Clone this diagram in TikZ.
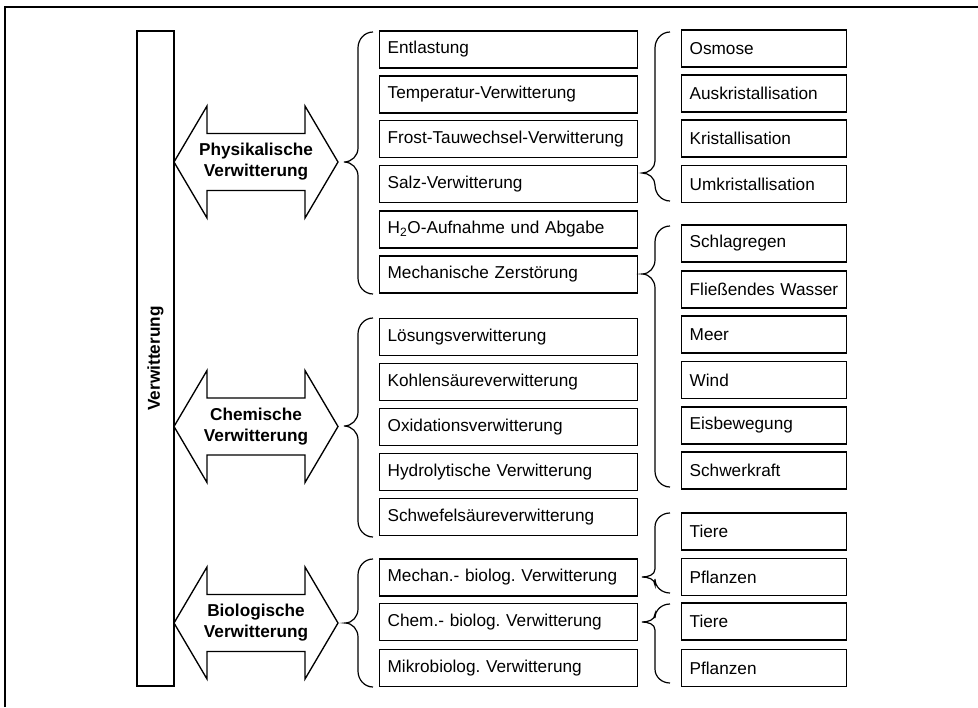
\documentclass[tikz,border=0pt]{standalone}
\usepackage{fontspec}
\setmainfont{Liberation Sans}
\frenchspacing
\begin{document}
\begin{tikzpicture}[x=0.75pt,y=-0.75pt,
  boxfont/.style={font=\fontsize{12.9}{15.5}\selectfont\frenchspacing},
  frame/.style={line width=1.1pt},
  midbox/.style={draw, line width=1pt, anchor=west, minimum height=27.75pt,
     text width=181.5pt, inner xsep=6pt, inner ysep=0pt, align=left, boxfont},
  rightbox/.style={draw, line width=1pt, anchor=west, minimum height=27.75pt,
     text width=111.75pt, inner xsep=6pt, inner ysep=0pt, align=left, boxfont},
  bar/.style={draw, line width=1pt, rotate=90, minimum width=491.25pt,
     minimum height=27.75pt, inner sep=0pt, font=\fontsize{12.9}{15.5}\selectfont\bfseries},
  arrowshape/.style={draw, line width=1pt, line join=miter},
  arrowtext/.style={align=center, font=\fontsize{12.9}{15.8}\selectfont\bfseries},
  bracestyle/.style={draw, line width=0.9pt}
]
\useasboundingbox (0,0) rectangle (978,707);
% outer frame (top and left visible)
\draw[frame] (5,707) -- (5,7) -- (978,7);

% main vertical bar
\node[bar] (verw) at (155.5,358.5) {Verwitterung};

% double arrows
\newcommand{\dblarrow}[3]{%
  \draw[arrowshape] (174,#1) -- (207,#1-56) -- (207,#1-28.5) -- (305,#1-28.5) -- (305,#1-56)
     -- (338,#1) -- (305,#1+56) -- (305,#1+28.5) -- (207,#1+28.5) -- (207,#1+56) -- cycle;
  \node[arrowtext] (#2) at (256,#1) {#3};}
\dblarrow{162}{phys}{Physikalische\\Verwitterung}
\dblarrow{426.5}{chem}{Chemische\\Verwitterung}
\dblarrow{623}{bio}{Biologische\\Verwitterung}

% braces: #1 end x, #2 vertical x, #3 tip x, #4 top y, #5 tip y, #6 bottom y, #7 r ends, #8 r tip
\newcommand{\curlybrace}[8]{%
  \draw[bracestyle] (#1,#4) to[out=180,in=90] (#2,#4+#7) -- (#2,#5-#8)
     to[out=-90,in=0] (#3,#5) to[out=0,in=90] (#2,#5+#8) -- (#2,#6-#7)
     to[out=-90,in=180] (#1,#6);}

% left braces
\curlybrace{373}{358}{344}{32}{162}{294}{16}{14}
\curlybrace{373}{358}{344}{318}{426}{537}{16}{14}
\curlybrace{373}{358}{345}{559}{623}{687}{16}{14}
% right braces
\curlybrace{670}{655}{642}{32}{173}{201}{16}{12}
\curlybrace{670}{655}{642}{226}{274}{487}{16}{14}
\curlybrace{670}{655}{642}{513}{577}{593}{14}{8}
\curlybrace{670}{655}{642}{604}{622}{683}{14}{8}

% middle column
\node[midbox] (m1)  at (379,49.5)  {Entlastung};
\node[midbox] (m2)  at (379,94.5)  {Temperatur-Verwitterung};
\node[midbox] (m3)  at (379,139)   {Frost-Tauwechsel-Verwitterung};
\node[midbox] (m4)  at (379,184)   {Salz-Verwitterung};
\node[midbox] (m5)  at (379,229.5) {H\textsubscript{2}O-Aufnahme und Abgabe};
\node[midbox] (m6)  at (379,274.5) {Mechanische Zerstörung};
\node[midbox] (m7)  at (379,337)   {Lösungsverwitterung};
\node[midbox] (m8)  at (379,382)   {Kohlensäureverwitterung};
\node[midbox] (m9)  at (379,427)   {Oxidationsverwitterung};
\node[midbox] (m10) at (379,472)   {Hydrolytische Verwitterung};
\node[midbox] (m11) at (379,517)   {Schwefelsäureverwitterung};
\node[midbox] (m12) at (379,577.5) {Mechan.- biolog. Verwitterung};
\node[midbox] (m13) at (379,622)   {Chem.- biolog. Verwitterung};
\node[midbox] (m14) at (379,668)   {Mikrobiolog. Verwitterung};

% right column
\node[rightbox] (r1)  at (681,48.5)  {Osmose};
\node[rightbox] (r2)  at (681,93.5)  {Auskristallisation};
\node[rightbox] (r3)  at (681,138.5) {Kristallisation};
\node[rightbox] (r4)  at (681,184)   {Umkristallisation};
\node[rightbox] (r5)  at (681,243.5) {Schlagregen};
\node[rightbox] (r6)  at (681,289.5) {Fließendes Wasser};
\node[rightbox] (r7)  at (681,334.5) {Meer};
\node[rightbox] (r8)  at (681,380)   {Wind};
\node[rightbox] (r9)  at (681,425.5) {Eisbewegung};
\node[rightbox] (r10) at (681,470.5) {Schwerkraft};
\node[rightbox] (r11) at (681,531.5) {Tiere};
\node[rightbox] (r12) at (681,577)   {Pflanzen};
\node[rightbox] (r13) at (681,621.5) {Tiere};
\node[rightbox] (r14) at (681,668)   {Pflanzen};
\end{tikzpicture}
\end{document}
